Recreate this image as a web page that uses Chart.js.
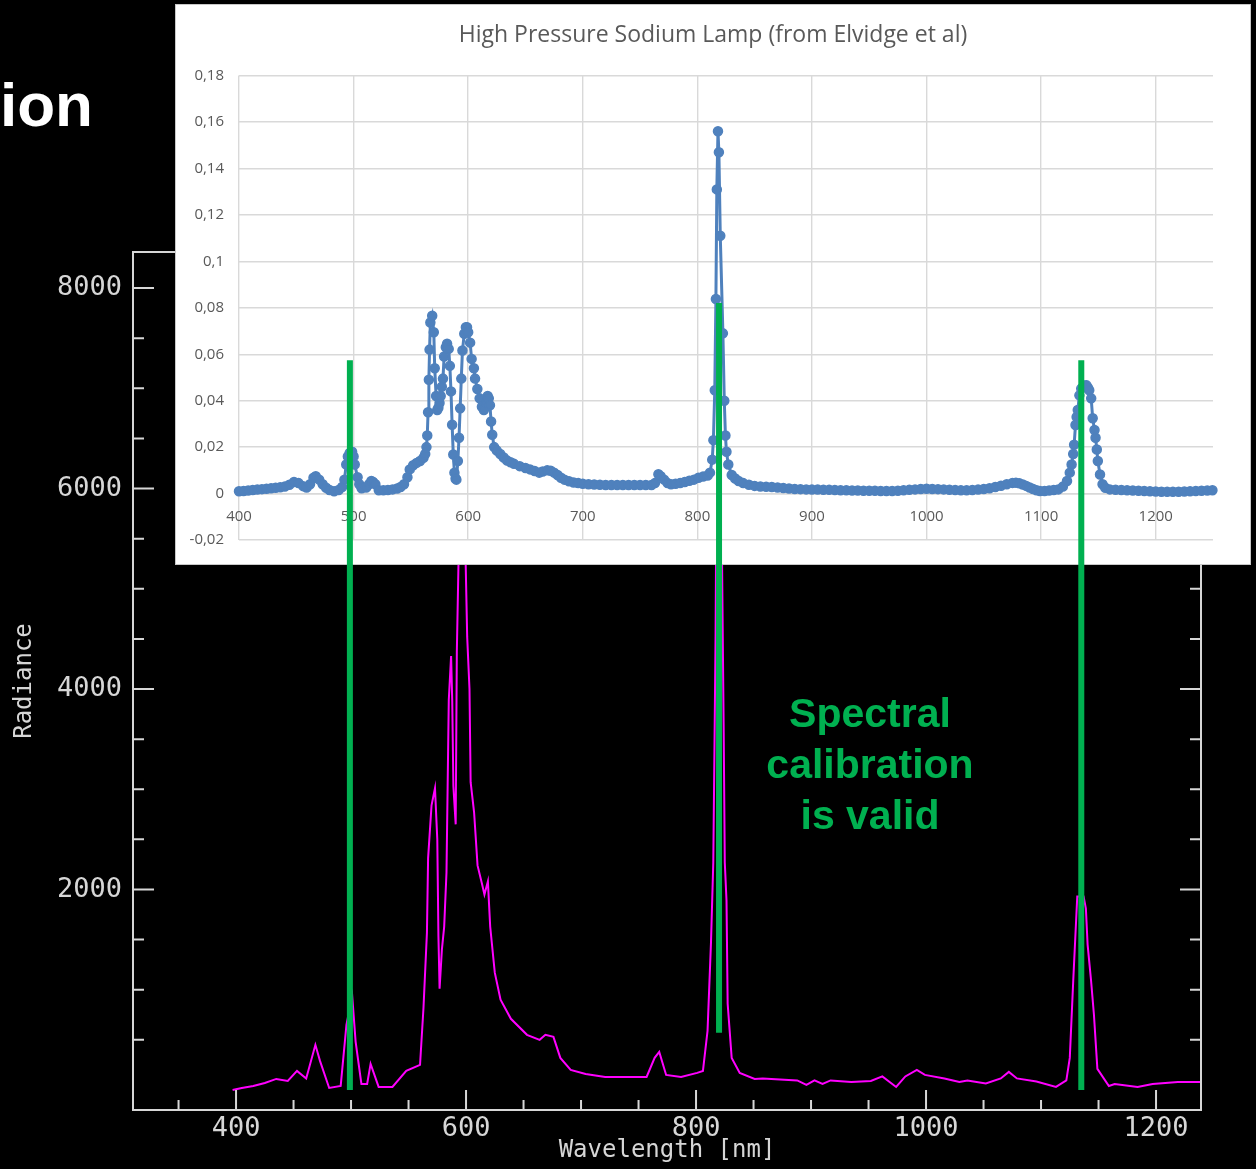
<!DOCTYPE html>
<html>
<head>
<meta charset="utf-8">
<script src="https://cdn.jsdelivr.net/npm/chart.js@4.4.1/dist/chart.umd.min.js"></script>
<style>
  html, body { margin: 0; padding: 0; background: #000; width: 1256px; height: 1169px; overflow: hidden; }
  body { position: relative; }
  canvas { position: absolute; left: 0; top: 0; }
  #main { z-index: 1; }
  #insetBox { position: absolute; left: 175px; top: 4px; width: 1074px; height: 559px; background: #fff; border: 1px solid #c8c8c8; z-index: 2; }
  #marks { z-index: 3; }
  #slideTitle { position: absolute; left: 0; top: 74px; z-index: 4; color: #fff; font: bold 62px/62px 'Liberation Sans', Arial, sans-serif; white-space: nowrap; }
  #note { position: absolute; left: 720px; top: 688px; width: 300px; z-index: 4; color: #00b050; text-align: center; font: bold 41px/51px 'Liberation Sans', Arial, sans-serif; }
</style>
</head>
<body>
<div id="slideTitle">ion</div>
<canvas id="main" width="1256" height="1169"></canvas>
<div id="insetBox"><canvas id="inset" width="1074" height="559"></canvas></div>
<canvas id="marks" width="1256" height="1169"></canvas>
<div id="note">Spectral<br>calibration<br>is valid</div>
<script>
// measured lamp spectrum (big black plot)
const lampNm = [397, 405, 415, 425, 435, 445, 453, 461, 469, 473, 481, 491, 496, 501, 504, 509, 514, 517, 524, 536,
  548, 560, 563, 566, 567, 570, 573, 575, 576, 577, 579, 581, 583, 584, 585, 587, 588, 589, 591, 592,
  594, 596, 598, 601, 603, 604, 607, 610, 614, 616, 619, 621, 625, 630, 639, 653, 664, 669, 676, 682,
  691, 704, 721, 737, 757, 764, 768, 774, 787, 801, 806, 810, 813, 815, 816, 817, 818, 820, 822, 824,
  825, 826.5, 827.5, 831, 838, 851, 858, 888, 896, 903, 910, 917, 935, 952, 962, 974, 982, 992, 999, 1016,
  1029, 1036, 1052, 1065, 1072, 1079, 1096, 1113, 1122, 1125, 1128, 1131.5, 1137, 1139, 1140.5, 1143.5, 1146, 1149, 1159, 1164,
  1184, 1197, 1219, 1239];
const lampRadiance = [0, 20, 40, 70, 110, 90, 190, 115, 450, 290, 20, 40, 650, 940, 480, 60, 60, 260, 30, 30,
  190, 250, 820, 1570, 2310, 2840, 3010, 2500, 1530, 1010, 1400, 1630, 2170, 3030, 3890, 4330, 3880, 3030, 2650, 4370,
  5600, 6500, 6200, 4520, 4000, 3070, 2770, 2240, 2050, 1950, 2080, 1630, 1170, 900, 710, 550, 500, 550, 530, 320,
  200, 160, 130, 130, 130, 320, 380, 150, 130, 170, 190, 590, 1470, 2270, 3380, 4560, 6500, 8000, 6000, 3640,
  2270, 1890, 860, 320, 170, 110, 115, 95, 50, 95, 60, 95, 80, 90, 135, 30, 135, 200, 150, 115,
  80, 95, 65, 115, 180, 115, 85, 30, 95, 320, 1090, 1930, 1930, 1810, 1450, 1090, 750, 210, 40, 60,
  30, 60, 80, 80];

const xMajor = [400, 600, 800, 1000, 1200];
const xMinor = [350, 450, 500, 550, 650, 700, 750, 850, 900, 950, 1050, 1100, 1150];
const yMajor = [2000, 4000, 6000, 8000];
const yMinor = [500, 1000, 1500, 2500, 3000, 3500, 4500, 5000, 5500, 6500, 7000, 7500];

// reference spectrum (white inset)
const hpsNm = [400, 404, 408, 412, 416, 420, 424, 428, 432, 436, 440, 444, 448, 452, 456, 459, 462, 465, 467, 470,
  473, 476, 479, 483, 487, 490, 492, 493.6, 495, 496.6, 498.7, 500, 501, 503.5, 505, 507, 511, 513.5, 515.5, 517,
  519, 522, 526, 530, 534, 538, 541, 544, 547, 549, 552, 555, 558, 561, 562.5, 563.6, 564.3, 565, 565.7, 566.3,
  567, 568.6, 570, 570.8, 572, 573, 574, 575, 576, 577, 578, 579, 580.5, 581.6, 583, 584, 585, 586, 587, 588,
  589, 589.7, 591, 592, 593, 594, 595, 596.6, 598, 599, 600, 601.7, 603, 605, 606, 608, 610, 612, 613.7, 616,
  617, 618, 619, 620, 621, 622.7, 625, 628, 631, 634, 637, 640, 645, 650, 654, 658, 662, 665, 669, 672,
  675, 678, 681, 684, 688, 692, 696, 700, 705, 710, 715, 720, 725, 730, 735, 740, 745, 750, 755, 760,
  763, 766, 768, 771, 774, 777, 781, 785, 789, 793, 797, 801, 805, 809, 811, 813, 814, 815.2, 816.2, 817,
  818, 818.8, 820, 822.3, 823.5, 824.5, 825.4, 827, 830, 833, 836, 840, 845, 850, 855, 860, 865, 870, 875, 880,
  885, 890, 895, 900, 905, 910, 915, 920, 925, 930, 935, 940, 945, 950, 955, 960, 965, 970, 975, 980,
  985, 990, 995, 1000, 1005, 1010, 1015, 1020, 1025, 1030, 1035, 1040, 1045, 1050, 1055, 1060, 1065, 1070, 1075, 1078,
  1081, 1084, 1087, 1090, 1093, 1096, 1099, 1103, 1107, 1111, 1115, 1119, 1122.6, 1125, 1126.6, 1128, 1128.8, 1130, 1131, 1132,
  1133.4, 1135, 1136.5, 1138, 1139.6, 1141, 1142, 1143.7, 1145, 1146.6, 1147.5, 1148.6, 1149.5, 1151.4, 1153.6, 1156, 1160, 1165, 1170, 1175,
  1180, 1185, 1190, 1195, 1200, 1205, 1210, 1215, 1220, 1225, 1230, 1235, 1240, 1245, 1249.5];
const hpsValue = [0.0010, 0.0011, 0.0013, 0.0015, 0.0017, 0.0019, 0.0021, 0.0023, 0.0025, 0.0027, 0.0030, 0.0038, 0.0050, 0.0045, 0.0032, 0.0026, 0.0040, 0.0068, 0.0075, 0.0060,
  0.0040, 0.0025, 0.0015, 0.0010, 0.0015, 0.0028, 0.0060, 0.0125, 0.0160, 0.0175, 0.0180, 0.0160, 0.0125, 0.0070, 0.0040, 0.0023, 0.0026, 0.0040, 0.0054, 0.0050,
  0.0040, 0.0014, 0.0014, 0.0015, 0.0018, 0.0022, 0.0028, 0.0040, 0.0070, 0.0104, 0.0122, 0.0132, 0.0140, 0.0154, 0.0170, 0.0200, 0.0250, 0.0350, 0.0490, 0.0620,
  0.0737, 0.0766, 0.0695, 0.0540, 0.0420, 0.0360, 0.0370, 0.0390, 0.0420, 0.0460, 0.0495, 0.0590, 0.0630, 0.0645, 0.0623, 0.0550, 0.0440, 0.0296, 0.0168, 0.0090,
  0.0065, 0.0060, 0.0140, 0.0240, 0.0367, 0.0495, 0.0616, 0.0688, 0.0716, 0.0716, 0.0695, 0.0650, 0.0580, 0.0540, 0.0495, 0.0450, 0.0410, 0.0374, 0.0360, 0.0390,
  0.0420, 0.0410, 0.0380, 0.0310, 0.0253, 0.0200, 0.0185, 0.0170, 0.0155, 0.0142, 0.0135, 0.0128, 0.0118, 0.0110, 0.0104, 0.0097, 0.0090, 0.0095, 0.0100, 0.0098,
  0.0090, 0.0080, 0.0068, 0.0060, 0.0053, 0.0048, 0.0045, 0.0042, 0.0040, 0.0039, 0.0038, 0.0037, 0.0037, 0.0037, 0.0037, 0.0037, 0.0037, 0.0037, 0.0037, 0.0037,
  0.0045, 0.0083, 0.0075, 0.0060, 0.0045, 0.0040, 0.0042, 0.0045, 0.0050, 0.0055, 0.0060, 0.0068, 0.0073, 0.0078, 0.0090, 0.0146, 0.0230, 0.0445, 0.0838, 0.1310,
  0.1560, 0.1470, 0.1110, 0.0690, 0.0400, 0.0250, 0.0180, 0.0125, 0.0080, 0.0065, 0.0054, 0.0045, 0.0038, 0.0033, 0.0030, 0.0029, 0.0028, 0.0026, 0.0024, 0.0022,
  0.0020, 0.0019, 0.0018, 0.0017, 0.0017, 0.0016, 0.0016, 0.0015, 0.0014, 0.0014, 0.0013, 0.0013, 0.0012, 0.0012, 0.0012, 0.0011, 0.0011, 0.0011, 0.0012, 0.0014,
  0.0016, 0.0018, 0.0020, 0.0021, 0.0020, 0.0019, 0.0018, 0.0016, 0.0015, 0.0014, 0.0014, 0.0015, 0.0017, 0.0020, 0.0023, 0.0028, 0.0034, 0.0040, 0.0046, 0.0047,
  0.0044, 0.0039, 0.0033, 0.0026, 0.0020, 0.0014, 0.0011, 0.0011, 0.0013, 0.0015, 0.0018, 0.0030, 0.0054, 0.0090, 0.0125, 0.0170, 0.0210, 0.0295, 0.0330, 0.0360,
  0.0423, 0.0452, 0.0459, 0.0465, 0.0466, 0.0455, 0.0445, 0.0410, 0.0324, 0.0274, 0.0240, 0.0190, 0.0140, 0.0082, 0.0040, 0.0025, 0.0018, 0.0016, 0.0015, 0.0014,
  0.0013, 0.0012, 0.0011, 0.0010, 0.0009, 0.0008, 0.0008, 0.0008, 0.0008, 0.0009, 0.0010, 0.0011, 0.0012, 0.0013, 0.0014];
const insetXTicks = [400, 500, 600, 700, 800, 900, 1000, 1100, 1200];
const insetYTicks = [-0.02, 0, 0.02, 0.04, 0.06, 0.08, 0.1, 0.12, 0.14, 0.16, 0.18];

// green marker lines: wavelength, top and bottom (radiance units of the big plot)
const markNm = [499, 820, 1135];
const markTop = [7280, 7850, 7280];
const markBottom = [0, 570, 0];

const AXIS = '#d6d6d6';
const MONO = "'DejaVu Sans Mono', monospace";
const BLUE = '#4f81bd';
const GRID = '#d9d9d9';
const X_RANGE = { min: 310.4, max: 1239.1 };
const Y_RANGE = { min: -200, max: 8360 };

// IDL style frame with inward ticks on bottom, left and right
const frameTicks = {
    id: 'frameTicks',
    afterDraw(chart) {
        const { ctx, chartArea: a, scales: { x, y } } = chart;
        ctx.save();
        ctx.strokeStyle = AXIS;
        ctx.lineWidth = 2;
        ctx.strokeRect(a.left, a.top, a.right - a.left, a.bottom - a.top);
        ctx.beginPath();
        const xt = (v, len) => { const px = x.getPixelForValue(v); ctx.moveTo(px, a.bottom); ctx.lineTo(px, a.bottom - len); };
        const yt = (v, len) => {
            const py = y.getPixelForValue(v);
            ctx.moveTo(a.left, py); ctx.lineTo(a.left + len, py);
            ctx.moveTo(a.right, py); ctx.lineTo(a.right - len, py);
        };
        xMajor.forEach(v => xt(v, 20));
        xMinor.forEach(v => xt(v, 10));
        yMajor.forEach(v => yt(v, 21));
        yMinor.forEach(v => yt(v, 11));
        ctx.stroke();
        ctx.restore();
    }
};

new Chart(document.getElementById('main'), {
    type: 'line',
    data: {
        datasets: [{ data: lampNm.map((x, i) => ({ x, y: lampRadiance[i] })), borderColor: '#ff00ff', borderWidth: 2, pointRadius: 0, tension: 0 }]
    },
    options: {
        responsive: false, animation: false,
        layout: { padding: { top: 252, right: 55 } },
        plugins: { legend: { display: false }, tooltip: { enabled: false } },
        scales: {
            x: {
                type: 'linear', ...X_RANGE,
                afterBuildTicks: s => { s.ticks = xMajor.map(value => ({ value })); },
                afterFit: s => { s.height = 59; },
                grid: { display: false, drawTicks: false }, border: { display: false },
                ticks: { color: AXIS, font: { family: MONO, size: 27 }, padding: 3, maxRotation: 0, autoSkip: false, callback: v => String(v) },
                title: { display: true, text: 'Wavelength [nm]', color: AXIS, font: { family: MONO, size: 24 }, padding: { top: 0, bottom: 4 } }
            },
            y: {
                type: 'linear', ...Y_RANGE,
                afterBuildTicks: s => { s.ticks = yMajor.map(value => ({ value })); },
                afterFit: s => { s.width = 133; },
                grid: { display: false, drawTicks: false }, border: { display: false },
                ticks: { color: AXIS, font: { family: MONO, size: 27 }, padding: 11, callback: v => String(v) },
                title: { display: true, text: 'Radiance', color: AXIS, font: { family: MONO, size: 24 }, padding: { top: 10, bottom: 0 } }
            }
        }
    },
    plugins: [frameTicks]
});

new Chart(document.getElementById('inset'), {
    type: 'line',
    data: {
        datasets: [{
            data: hpsNm.map((x, i) => ({ x, y: hpsValue[i] })),
            borderColor: BLUE, backgroundColor: BLUE, borderWidth: 3,
            pointRadius: 4.5, pointBorderWidth: 1.5, pointBorderColor: BLUE, pointBackgroundColor: BLUE,
            tension: 0, clip: false
        }]
    },
    options: {
        responsive: false, animation: false,
        layout: { padding: { bottom: 22 } },
        plugins: {
            legend: { display: false }, tooltip: { enabled: false },
            title: {
                display: true, text: 'High Pressure Sodium Lamp (from Elvidge et al)', color: '#595959',
                font: { family: "'Open Sans', sans-serif", size: 23, weight: 'normal' }, padding: { top: 17, bottom: 26 }
            }
        },
        scales: {
            x: {
                type: 'linear', position: { y: 0 }, min: 400, max: 1250,
                afterBuildTicks: s => { s.ticks = insetXTicks.map(value => ({ value })); },
                grid: { color: GRID, lineWidth: 1.4, drawTicks: false }, border: { color: GRID, width: 1.4 },
                ticks: { color: '#595959', font: { family: "'Open Sans', sans-serif", size: 15 }, padding: 14, maxRotation: 0, autoSkip: false, callback: v => String(v) }
            },
            y: {
                type: 'linear', min: -0.02, max: 0.18,
                afterBuildTicks: s => { s.ticks = insetYTicks.map(value => ({ value })); },
                afterFit: s => { s.width = 63; },
                grid: { color: GRID, lineWidth: 1.4, drawTicks: false }, border: { display: false },
                ticks: { color: '#595959', font: { family: "'Open Sans', sans-serif", size: 15 }, padding: 15,
                    callback: v => String(Math.round(v * 100) / 100).replace('.', ',') }
            },
            // empty right-hand margin; keeps the full-width title centred on the box
            yPad: {
                axis: 'y', position: 'right', min: -0.02, max: 0.18,
                afterFit: s => { s.width = 37; },
                grid: { display: false, drawTicks: false }, border: { display: false },
                ticks: { display: false }
            }
        }
    }
});

new Chart(document.getElementById('marks'), {
    type: 'line',
    data: {
        datasets: markNm.map((nm, i) => ({
            data: [{ x: nm, y: markTop[i] }, { x: nm, y: markBottom[i] }],
            borderColor: '#00b050', borderWidth: 6, pointRadius: 0, clip: false
        }))
    },
    options: {
        responsive: false, animation: false,
        layout: { padding: { top: 252, right: 55, left: 133, bottom: 59 } },
        plugins: { legend: { display: false }, tooltip: { enabled: false } },
        scales: {
            x: { type: 'linear', display: false, ...X_RANGE },
            y: { type: 'linear', display: false, ...Y_RANGE }
        }
    }
});
</script>
</body>
</html>
